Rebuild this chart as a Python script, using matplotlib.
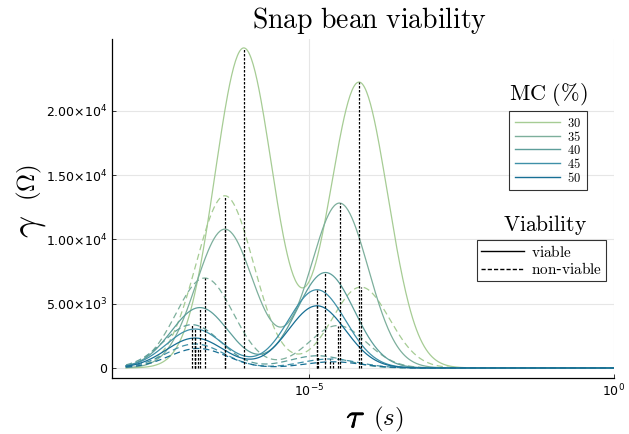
import numpy as np
import matplotlib
matplotlib.use("Agg")
import matplotlib.pyplot as plt
import matplotlib.patheffects as pe
from matplotlib.lines import Line2D

plt.rcParams['mathtext.fontset'] = 'cm'

# moisture content levels and colours
mc = ['30', '35', '40', '45', '50']
colors = ['#a6cc94', '#7daf9c', '#5d9e9a', '#3f90a8', '#176f94']

# peak parameters (log10 tau, height in ohm)
# viable (solid)
v_mu1 = [-6.07, -6.38, -6.79, -6.87, -6.87]
v_h1 = [24900, 10800, 4700, 3030, 2330]
v_mu2 = [-4.18, -4.50, -4.73, -4.87, -4.87]
v_h2 = [22240, 12830, 7430, 6090, 4840]
# non-viable (dashed)
n_mu1 = [-6.38, -6.71, -6.92, -6.87, -6.82]
n_h1 = [13400, 7000, 3370, 1870, 1520]
n_mu2 = [-4.15, -4.53, -4.86, -4.66, -4.61]
n_h2 = [6300, 3300, 950, 700, 480]
width = 0.47  # peak width in decades

logtau = np.linspace(-8, 0, 500)
tau = 10 ** logtau


def drt(mu1, h1, mu2, h2):
    return (h1 * np.exp(-(logtau - mu1) ** 2 / (2 * width ** 2))
            + h2 * np.exp(-(logtau - mu2) ** 2 / (2 * width ** 2)))


fig = plt.figure(figsize=(6.29, 4.34), dpi=100)
ax = fig.add_axes([112 / 629, 1 - 378 / 434, (614 - 112) / 629, (378 - 39) / 434])

peaks = []
for i in range(5):
    g = drt(v_mu1[i], v_h1[i], v_mu2[i], v_h2[i])
    ax.plot(tau, g, color=colors[i], lw=0.9)
    for m in (v_mu1[i], v_mu2[i]):
        peaks.append((m, np.interp(m, logtau, g)))
    g = drt(n_mu1[i], n_h1[i], n_mu2[i], n_h2[i])
    ax.plot(tau, g, color=colors[i], lw=0.9, ls=(0, (5, 3)))
    for m in (n_mu1[i], n_mu2[i]):
        peaks.append((m, np.interp(m, logtau, g)))

for m, h in peaks:
    ax.plot([10 ** m, 10 ** m], [0, h], color='black', lw=0.9, ls=(0, (2, 1.2)))

ax.set_xscale('log')
ax.set_xlim(10 ** -8.23, 1)
ax.set_ylim(-780, 25600)
ax.set_xticks([1e-5, 1e0])
ax.set_xticklabels([r'$10^{-5}$', r'$10^{0}$'])
ax.xaxis.set_minor_locator(matplotlib.ticker.NullLocator())
yt = [0, 5000, 10000, 15000, 20000]
ax.set_yticks(yt)
ax.set_yticklabels(['0', r'$5.00{\times}10^{3}$', r'$1.00{\times}10^{4}$',
                    r'$1.50{\times}10^{4}$', r'$2.00{\times}10^{4}$'])
for lab in ax.get_xticklabels() + ax.get_yticklabels():
    lab.set_math_fontfamily('dejavusans')
    lab.set_fontsize(9)
ax.tick_params(direction='in', length=3, width=0.7, color='#333333')
ax.grid(True, color='#e6e6e6', lw=0.8)
ax.set_axisbelow(True)
for s in ['top', 'right']:
    ax.spines[s].set_visible(False)
for s in ['left', 'bottom']:
    ax.spines[s].set_linewidth(0.9)

fig.text(370 / 629, 1 - 20 / 434, r'$\mathrm{Snap\ bean\ viability}$', fontsize=20,
         ha='center', va='center')

# axis labels
fig.text(356 / 629, 1 - 418 / 434, r'$\tau$', fontsize=24, ha='center', va='center',
         path_effects=[pe.withStroke(linewidth=0.6, foreground='black')])
fig.text(388 / 629, 1 - 419 / 434, r'$(s)$', fontsize=18, ha='center', va='center')
fig.text(29 / 629, 1 - 226 / 434, r'$\gamma$', fontsize=28, ha='center', va='center',
         rotation=90)
fig.text(29 / 629, 1 - 182 / 434, r'$(\Omega)$', fontsize=18, ha='center', va='center',
         rotation=90)

# legend for moisture content
h_mc = [Line2D([], [], color=c, lw=1.0) for c in colors]
leg1 = ax.legend(h_mc, [r'$\mathrm{%s}$' % m for m in mc], loc='upper left',
                 bbox_to_anchor=(509 / 629, 1 - 111 / 434), bbox_transform=fig.transFigure,
                 fontsize=9, frameon=True, fancybox=False, edgecolor='black', borderaxespad=0,
                 handlelength=3.6, labelspacing=0.0, borderpad=0.45, handletextpad=0.6)
leg1.get_frame().set_linewidth(0.8)
ax.add_artist(leg1)
fig.text(548 / 629, 1 - 95 / 434, r'$\mathrm{MC\ (\%)}$', fontsize=16, ha='center', va='center')

h_v = [Line2D([], [], color='black', lw=1.0), Line2D([], [], color='black', lw=1.0, ls=(0, (3, 1.5)))]
leg2 = ax.legend(h_v, [r'$\mathrm{viable}$', r'$\mathrm{non}$-$\mathrm{viable}$'], loc='upper left',
                 bbox_to_anchor=(477 / 629, 1 - 240 / 434), bbox_transform=fig.transFigure,
                 fontsize=11, frameon=True, fancybox=False, edgecolor='black', borderaxespad=0,
                 handlelength=2.8, labelspacing=0.1, borderpad=0.25, handletextpad=0.5)
leg2.get_frame().set_linewidth(0.8)
fig.text(545 / 629, 1 - 225 / 434, r'$\mathrm{Viability}$', fontsize=15.5, ha='center', va='center')

fig.savefig('out.png', dpi=100)
